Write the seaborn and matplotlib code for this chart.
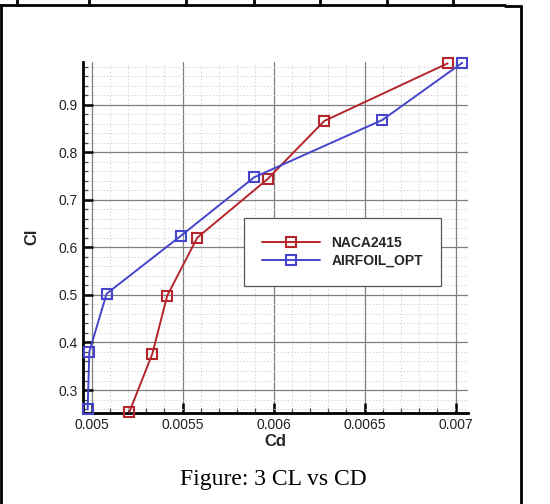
import matplotlib
matplotlib.use("Agg")
import matplotlib.pyplot as plt
from matplotlib.lines import Line2D
from matplotlib.ticker import MultipleLocator, FixedLocator
import seaborn as sns
import pandas as pd

# ---- data ----
naca_cd = [0.005207, 0.005333, 0.005415, 0.005580, 0.005967, 0.006278, 0.006956]
naca_cl = [0.2537, 0.3757, 0.4983, 0.6203, 0.7437, 0.8657, 0.9869]
opt_cd = [0.004978, 0.004987, 0.005082, 0.005489, 0.005893, 0.006597, 0.007036]
opt_cl = [0.2594, 0.3805, 0.5025, 0.6239, 0.7473, 0.8678, 0.9880]
series_names = ["NACA2415", "AIRFOIL_OPT"]
x_ticks = [0.005, 0.0055, 0.006, 0.0065, 0.007]
x_tick_labels = ["0.005", "0.0055", "0.006", "0.0065", "0.007"]
y_ticks = [0.3, 0.4, 0.5, 0.6, 0.7, 0.8, 0.9]
y_tick_labels = ["0.3", "0.4", "0.5", "0.6", "0.7", "0.8", "0.9"]
caption = "Figure: 3 CL vs CD"

sns.set_theme(style="white")
plt.rcParams['font.family'] = ['Liberation Sans', 'DejaVu Sans']

W, H = 550, 504
fig = plt.figure(figsize=(W / 100, H / 100), dpi=100)
fig.patch.set_facecolor("white")

ax = fig.add_axes([83.3 / W, 1 - 412.7 / H, (468 - 83.3) / W, (412.7 - 61.7) / H])

df_a = pd.DataFrame({"Cd": naca_cd, "Cl": naca_cl})
df_b = pd.DataFrame({"Cd": opt_cd, "Cl": opt_cl})
colors = ["#b3262b", "#4545cc"]
for d, name, c in zip([df_a, df_b], series_names, colors):
    sns.lineplot(data=d, x="Cd", y="Cl", ax=ax, sort=False, color=c, lw=1.4,
                 marker="s", markersize=7.5, markerfacecolor="none",
                 markeredgecolor=c, markeredgewidth=1.5, label=name, zorder=7,
                 clip_on=False)

ax.set_xlim(0.004954, 0.007068)
ax.set_ylim(0.2523, 0.9904)
ax.xaxis.set_major_locator(FixedLocator(x_ticks))
ax.set_xticklabels(x_tick_labels)
ax.xaxis.set_minor_locator(MultipleLocator(0.0001))
ax.yaxis.set_major_locator(FixedLocator(y_ticks))
ax.set_yticklabels(y_tick_labels)
ax.yaxis.set_minor_locator(MultipleLocator(0.02))

ax.grid(True, which="major", color="#7f7f7f", lw=0.9, ls="-", zorder=0)
ax.grid(True, which="minor", color="#d4d4d4", lw=0.7, ls=(0, (1.5, 2)), zorder=0)
ax.set_axisbelow(True)

for s in ["top", "right"]:
    ax.spines[s].set_visible(False)
for s in ["left", "bottom"]:
    ax.spines[s].set_visible(True)
    ax.spines[s].set_color("black")
    ax.spines[s].set_linewidth(2)
    ax.spines[s].set_zorder(6)

ax.tick_params(which="major", direction="in", length=7, width=1.8, color="black",
               labelsize=10, labelcolor="#222222", left=True, bottom=True, pad=4)
ax.tick_params(which="minor", direction="in", length=3.5, width=0.9, color="#444444",
               left=True, bottom=True)

ax.set_xlabel("Cd", fontsize=12, fontweight="bold", labelpad=1)
ax.set_ylabel("Cl", fontsize=12, fontweight="bold", labelpad=14)

leg = ax.legend(loc="upper left", bbox_to_anchor=(0.418, 0.555), frameon=True,
                fancybox=False, edgecolor="#555555", framealpha=1,
                prop={"weight": "bold", "size": 10}, handlelength=4.2,
                borderpad=1.3, labelspacing=0.3, handletextpad=0.8,
                borderaxespad=0)
leg.get_frame().set_linewidth(0.9)
leg.set_zorder(10)

# surrounding document borders
lk = dict(color="black", lw=2, transform=fig.transFigure)
def fx(x):
    return x / W
def fy(y):
    return 1 - y / H
fig.add_artist(Line2D([fx(0), fx(505)], [fy(5), fy(5)], **lk))
for xv in [17, 89, 186, 254, 320, 387, 453]:
    fig.add_artist(Line2D([fx(xv), fx(xv)], [fy(0), fy(5)], **lk))
fig.add_artist(Line2D([fx(505), fx(521)], [fy(6), fy(6)], **lk))
fig.add_artist(Line2D([fx(1), fx(1)], [fy(5), fy(504)], **lk))
fig.add_artist(Line2D([fx(521), fx(521)], [fy(6), fy(504)], **lk))

fig.text(fx(273), fy(485), caption, ha="center", va="baseline",
         fontsize=17, family=["Liberation Serif", "DejaVu Serif"], color="black")

fig.savefig("out.png", dpi=100, facecolor="white")
